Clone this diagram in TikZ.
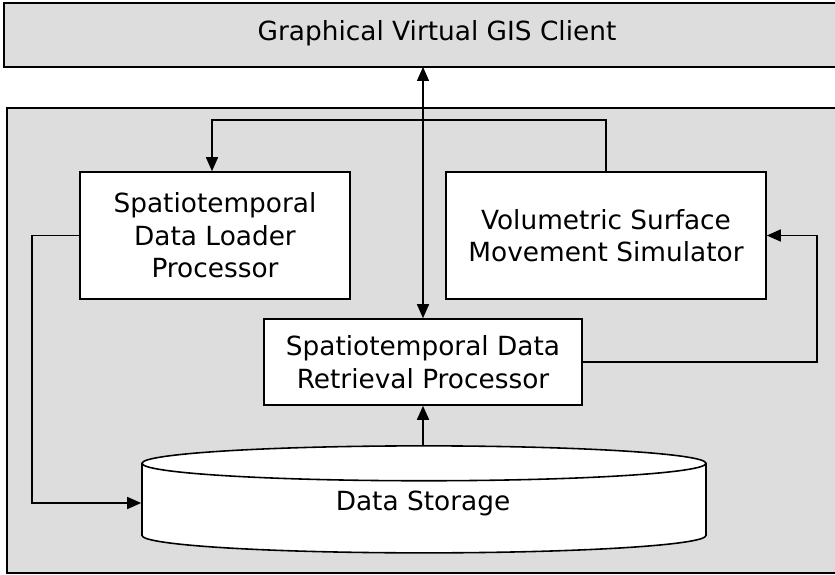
\documentclass[tikz,border=0pt]{standalone}
\usepackage{fontspec}
\setmainfont{DejaVu Sans}
\usepackage{xcolor}
\usetikzlibrary{shapes.geometric,arrows.meta}

\definecolor{panelgray}{HTML}{DDDDDD}

\tikzset{
  block/.style={draw, line width=0.9pt, fill=white, align=center,
    font=\fontsize{15}{18.5}\selectfont, inner sep=0pt},
  flow/.style={line width=0.9pt, -{Triangle[length=2.8mm, width=2.4mm]}},
}

\begin{document}
\begin{tikzpicture}
      \useasboundingbox (0,0) rectangle (16.7,-11.5);
      % Client and server panels
      \draw[line width=0.9pt, fill=panelgray] (0.08,-0.06) rectangle (17,-1.34);
      \node[font=\fontsize{15}{17}\selectfont] (client) at (8.74,-0.67) {Graphical Virtual GIS Client};
      \coordinate (clientbottom) at (8.46,-1.34);
      \draw[line width=0.9pt, fill=panelgray] (0.14,-2.16) rectangle (17,-11.46);

      % Processors
      \node[block, minimum width=5.4cm, minimum height=2.54cm] (loader) at (4.3,-4.71)
        {Spatiotemporal\\Data Loader\\Processor};
      \node[block, minimum width=6.4cm, minimum height=2.54cm] (simulator) at (12.12,-4.71)
        {Volumetric Surface\\Movement Simulator};
      \node[block, minimum width=6.36cm, minimum height=1.72cm] (retrieval) at (8.46,-7.24)
        {Spatiotemporal Data\\Retrieval Processor};

      % Storage
      \node[block, cylinder, shape border rotate=90, aspect=0.2,
        minimum width=11.28cm, minimum height=2.14cm] (storage) at (8.48,-10.17) {\phantom{Data Storage}};
      \node[font=\fontsize{15}{18.5}\selectfont] (storagetext) at (8.46,-10.06) {Data Storage};

      % Connections
      \draw[flow, {Triangle[length=2.8mm, width=2.4mm]}-{Triangle[length=2.8mm, width=2.4mm]}]
        (retrieval.north -| clientbottom) -- (clientbottom);
      \draw[flow] (storage.north -| retrieval) -- (retrieval.south);
      \draw[flow] (simulator.north) |- (4.24,-2.4) -- (loader.north -| 4.24,0);
      \draw[flow] (loader.west) -- (loader.west -| 0.64,0) |- (storage.west |- storagetext);
      \draw[flow] (retrieval.east) -- (16.34,-7.24) |- (simulator.east);
    \end{tikzpicture}
\end{document}
